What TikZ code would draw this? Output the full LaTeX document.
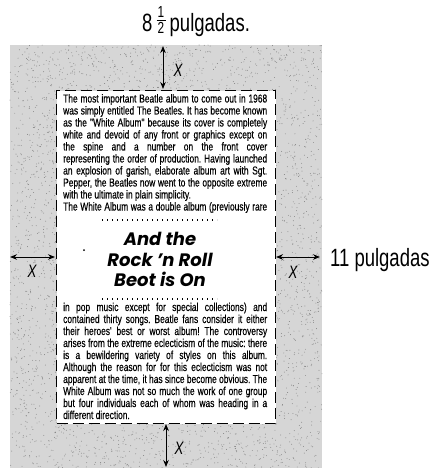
\documentclass[tikz,border=0pt]{standalone}
\usepackage{fontspec}
\setmainfont{Liberation Sans}
\newfontfamily\bodyfont[FakeStretch=0.73,FakeBold=0.35]{Liberation Sans}
\newfontfamily\labelfont[FakeStretch=0.74]{Liberation Sans}
\newfontfamily\headfont{Poppins}
\usetikzlibrary{arrows.meta}
\frenchspacing
\newcommand\jl[1]{\makebox[\linewidth][s]{#1}\par}
\newcommand\lastl[1]{#1\par}
\newcommand\halfsym{\raisebox{-1.5pt}{\vbox{\hbox to 9pt{\hss\fontsize{16}{16}\selectfont 1\hss}\kern1.8pt\hrule height 0.9pt\kern1.8pt\hbox to 9pt{\hss\fontsize{16}{16}\selectfont 2\hss}}}}
\begin{document}
\begin{tikzpicture}[x=1pt,y=-1pt,
  dim/.style={{Stealth[length=7pt,width=5.5pt]}-{Stealth[length=7pt,width=5.5pt]}, line width=0.9pt},
  xlab/.style={font=\labelfont\itshape\fontsize{18}{18}\selectfont, inner sep=0},
  biglab/.style={font=\labelfont\fontsize{25}{25}\selectfont, inner sep=0},
  dashbox/.style={draw, line width=1.3pt, dash pattern=on 11pt off 5pt, fill=white, inner sep=0, anchor=north west},
  dotline/.style={line width=1.3pt, dash pattern=on 1.3pt off 3.7pt},
  bodytext/.style={inner sep=0, anchor=base west},
  headline/.style={inner sep=0, align=center, font=\headfont\bfseries\itshape\fontsize{18}{20.5}\selectfont}]
\useasboundingbox (0,0) rectangle (432,468);
% stippled sheet
\fill[black!16] (10,45) rectangle (322,468);
\pgfmathsetseed{7}
\foreach \i in {1,...,5000}{\fill[black!50] ({10+312*rnd},{45+423*rnd}) circle[radius=0.45pt];}
% dashed text area
\node[dashbox, minimum width=219pt, minimum height=333pt] (box) at (56,90) {};
% paragraph 1
\node[bodytext] (p1) at (63,102.5) {\parbox[t]{204pt}{\bodyfont\fontsize{11.5}{12}\selectfont
\jl{The most important Beatle album to come out in 1968}
\jl{was simply entitled The Beatles. It has become known}
\jl{as the "White Album" because its cover is completely}
\jl{white and devoid of any front or graphics except on}
\jl{the spine and a number on the front cover}
\jl{representing the order of production. Having launched}
\jl{an explosion of garish, elaborate album art with Sgt.}
\jl{Pepper, the Beatles now went to the opposite extreme}
\lastl{with the ultimate in plain simplicity.}
\jl{The White Album was a double album (previously rare}}};
% dotted rules
\coordinate (d1l) at (102,220); \coordinate (d1r) at (217,220);
\coordinate (d2l) at (102,299); \coordinate (d2r) at (217,299);
\draw[dotline] (d1l) -- (d1r);
\draw[dotline] (d2l) -- (d2r);
% headline
\node[headline] (head) at (160,259.5) {And the\\Rock ’n Roll\\Beot is On};
\fill (84,250) circle[radius=1pt];
% paragraph 2
\node[bodytext] (p2) at (63,311) {\parbox[t]{204pt}{\bodyfont\fontsize{11.5}{12}\selectfont
\jl{in pop music except for special collections) and}
\jl{contained thirty songs. Beatle fans consider it either}
\jl{their heroes' best or worst album! The controversy}
\jl{arises from the extreme eclecticism of the music: there}
\jl{is a bewildering variety of styles on this album.}
\jl{Although the reason for for this eclecticism was not}
\jl{apparent at the time, it has since become obvious. The}
\jl{White Album was not so much the work of one group}
\jl{but four individuals each of whom was heading in a}
\lastl{different direction.}}};
% margin arrows
\coordinate (t1) at (163,46); \coordinate (t2) at (163,89);
\coordinate (b1) at (166,424); \coordinate (b2) at (166,467);
\coordinate (l1) at (10,257); \coordinate (l2) at (55,257);
\coordinate (r1) at (276,257); \coordinate (r2) at (320,257);
\draw[dim] (t1) -- (t2);
\draw[dim] (b1) -- (b2);
\draw[dim] (l1) -- (l2);
\draw[dim] (r1) -- (r2);
\node[xlab] (xt) at (178,70) {X};
\node[xlab] (xb) at (179,448) {X};
\node[xlab] (xl) at (32,271) {X};
\node[xlab] (xr) at (293,272) {X};
% dimension labels
\node[biglab, anchor=base] (w) at (196,32) {8\,\halfsym\,pulgadas.};
\node[biglab, anchor=base west] (h) at (330,266) {11 pulgadas};
\end{tikzpicture}
\end{document}
